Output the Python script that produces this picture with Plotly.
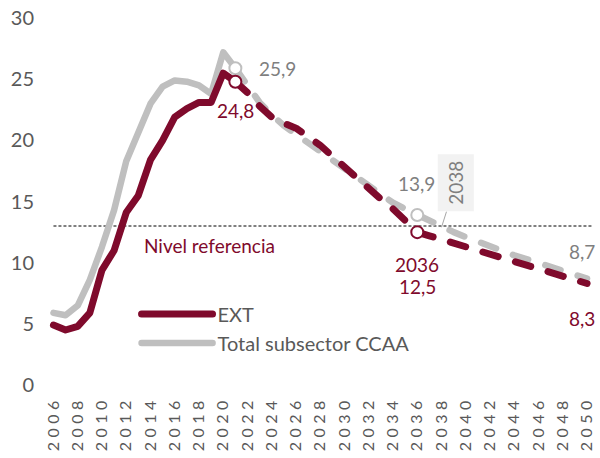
import plotly.graph_objects as go

years = list(range(2006, 2051))
ext = [4.9, 4.5, 4.8, 5.9, 9.4, 11.0, 14.1, 15.5, 18.4, 20.0, 21.9, 22.6, 23.1, 23.1, 25.5, 24.8,
       23.9, 22.8, 21.9, 21.4, 21.0, 20.3, 19.6, 18.7, 17.8, 16.9, 16.1, 15.2, 14.4, 13.5, 12.5,
       12.2, 11.9, 11.6, 11.3, 11.0, 10.7, 10.4, 10.1, 9.8, 9.5, 9.2, 8.9, 8.6, 8.3]
total = [5.9, 5.7, 6.5, 8.6, 11.3, 14.3, 18.3, 20.5, 23.0, 24.4, 24.9, 24.8, 24.5, 23.8, 27.2, 25.9,
         24.4, 23.1, 22.1, 21.2, 20.5, 19.8, 19.1, 18.4, 17.6, 16.9, 16.2, 15.5, 14.9, 14.4, 13.9,
         13.4, 12.9, 12.5, 12.1, 11.7, 11.3, 10.95, 10.6, 10.3, 10.0, 9.6, 9.3, 9.0, 8.7]
last_real_year = 2021
milestone_year = 2036
callout_year = 2038
ref_level = 13
ref_label = "Nivel referencia"
x_tick_labels = [str(y) for y in years[::2]]
y_ticks = [0, 5, 10, 15, 20, 25, 30]

EXT_C = "#7F0A2C"
TOT_C = "#BFBFBF"
TXT = "#595959"
GTXT = "#7F7F7F"
FONT = "Lato"

i0 = years.index(last_real_year)
i1 = years.index(milestone_year)
i2 = years.index(callout_year)

fig = go.Figure()
fig.add_trace(go.Scatter(x=years[:i0 + 1], y=total[:i0 + 1], mode="lines",
                         line=dict(color=TOT_C, width=6.5), name="Total subsector CCAA",
                         legendrank=2))
fig.add_trace(go.Scatter(x=years[i0:], y=total[i0:], mode="lines",
                         line=dict(color=TOT_C, width=6.5, dash="16px,18px"),
                         showlegend=False, hoverinfo="skip"))
fig.add_trace(go.Scatter(x=years[:i0 + 1], y=ext[:i0 + 1], mode="lines",
                         line=dict(color=EXT_C, width=7), name="EXT", legendrank=1))
fig.add_trace(go.Scatter(x=years[i0:], y=ext[i0:], mode="lines",
                         line=dict(color=EXT_C, width=7, dash="16px,18px"),
                         showlegend=False, hoverinfo="skip"))
fig.add_trace(go.Scatter(x=[years[i0], years[i1]], y=[total[i0], total[i1]], mode="markers",
                         marker=dict(size=12, color="white", line=dict(color=TOT_C, width=2)),
                         showlegend=False))
fig.add_trace(go.Scatter(x=[years[i0], years[i1]], y=[ext[i0], ext[i1]], mode="markers",
                         marker=dict(size=12, color="white", line=dict(color=EXT_C, width=2)),
                         showlegend=False))

x_range = [2004.89, 2050.49]
fig.add_shape(type="line", xref="x", yref="y", x0=years[0], x1=x_range[1],
              y0=ref_level, y1=ref_level, line=dict(color="black", width=1, dash="3px,2px"),
              layer="below")

def fmt(v):
    return f"{v:.1f}".replace(".", ",")

ann = []
ann.append(dict(x=years[i0], y=total[i0], text=fmt(total[i0]), xshift=42, yshift=0,
                font=dict(color=GTXT, size=19)))
ann.append(dict(x=years[i0], y=ext[i0], text=fmt(ext[i0]), xshift=0, yshift=-29,
                font=dict(color=EXT_C, size=19)))
ann.append(dict(x=years[i1], y=total[i1], text=fmt(total[i1]), xshift=-1, yshift=32,
                font=dict(color=GTXT, size=19)))
ann.append(dict(x=years[i1], y=ext[i1], text=str(milestone_year), xshift=0, yshift=-32,
                font=dict(color=EXT_C, size=19)))
ann.append(dict(x=years[i1], y=ext[i1], text=fmt(ext[i1]), xshift=0, yshift=-54,
                font=dict(color=EXT_C, size=19)))
ann.append(dict(x=years[-1], y=total[-1], text=fmt(total[-1]), xshift=-5, yshift=27,
                font=dict(color=GTXT, size=19)))
ann.append(dict(x=years[-1], y=ext[-1], text=fmt(ext[-1]), xshift=-5, yshift=-35,
                font=dict(color=EXT_C, size=19)))
for a in ann:
    a.update(showarrow=False, xref="x", yref="y", xanchor="center")
ann.append(dict(x=0.306, xref="paper", y=ref_level, yref="y", text=ref_label, yshift=-19,
                xanchor="center", showarrow=False, font=dict(color=EXT_C, size=19)))
ann.append(dict(x=years[i2], y=total[i2], xref="x", yref="y", text=str(callout_year),
                textangle=-90, showarrow=True, arrowhead=0, arrowwidth=1, arrowcolor="#A6A6A6",
                ax=14, ay=-44, bgcolor="#F2F2F2", borderpad=6,
                font=dict(color=GTXT, size=19)))

fig.update_layout(
    width=600, height=458,
    margin=dict(l=40, r=5, t=10, b=66),
    paper_bgcolor="white", plot_bgcolor="white",
    font=dict(family=FONT, color=TXT),
    showlegend=True,
    legend=dict(x=0.1746, y=0.255, xanchor="left", yanchor="top",
                font=dict(size=20, color=TXT), bgcolor="rgba(0,0,0,0)",
                itemwidth=71, tracegroupgap=0),
    xaxis=dict(range=x_range, tickmode="array", tickvals=years[::2],
               ticktext=[f'<span style="letter-spacing:4.5px">{t}</span>' for t in x_tick_labels],
               tickangle=-90, showgrid=False, zeroline=False, showline=False, ticks="",
               tickfont=dict(size=16, color=TXT, family=FONT)),
    yaxis=dict(range=[-0.57, 30.66], tickmode="array", tickvals=y_ticks,
               showgrid=False, zeroline=False, showline=False, ticks="",
               ticklabelstandoff=5,
               tickfont=dict(size=20, color=TXT, family=FONT)),
    annotations=ann,
)

post = """
document.body.style.margin='0';
document.body.style.overflow='hidden';
var gd = document.getElementById('{plot_id}');
function fixcaps(){
  gd.querySelectorAll('.scatterlayer .js-line').forEach(function(p){
    p.style.strokeLinecap='round'; p.style.strokeLinejoin='round';});
  gd.querySelectorAll('.legendlines path').forEach(function(p){
    p.style.strokeLinecap='round';});
}
fixcaps();
gd.on('plotly_afterplot', fixcaps);
"""
fig.write_html("out.html", post_script=post, config={"displayModeBar": False})
